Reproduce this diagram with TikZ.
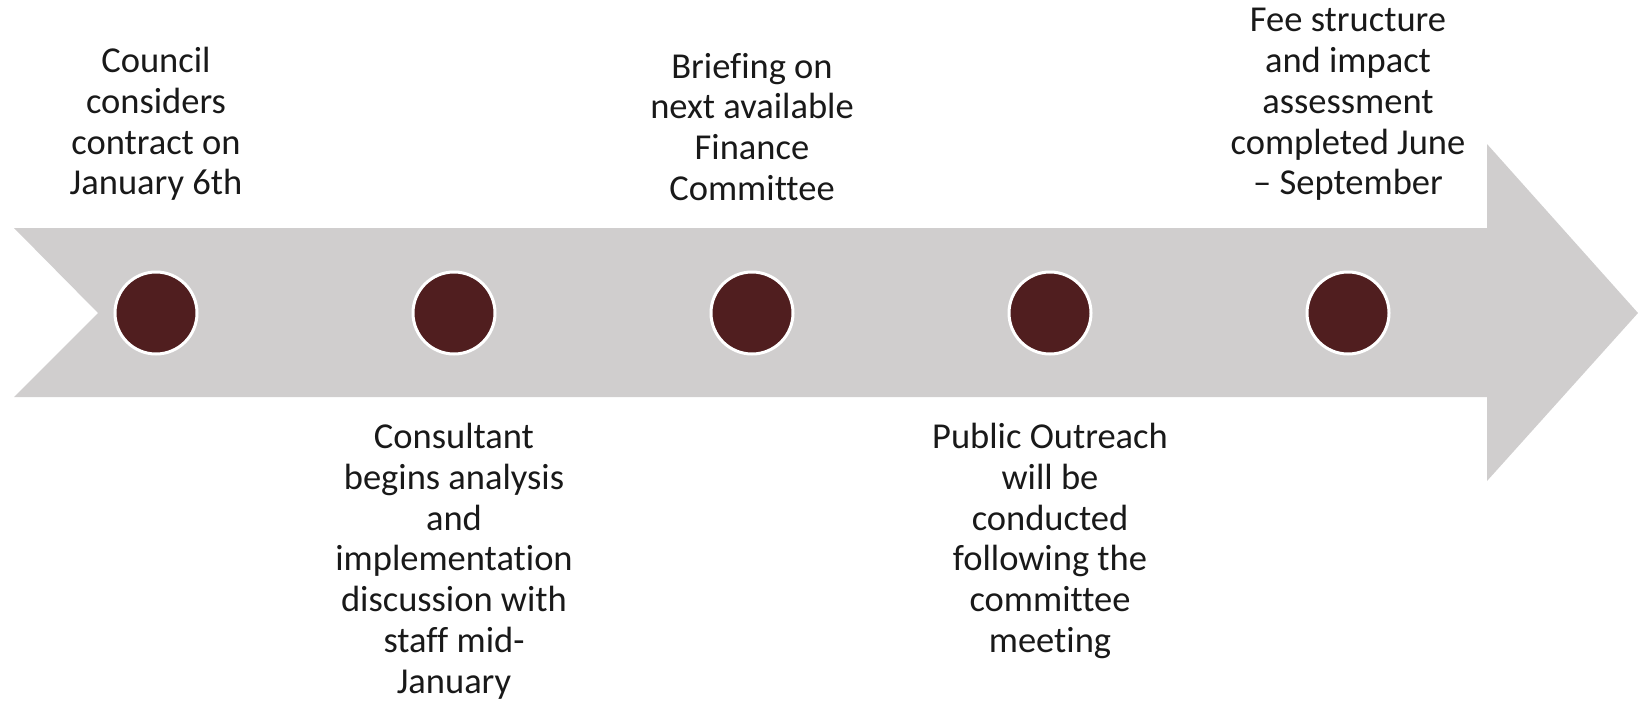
\documentclass[tikz,border=0pt]{standalone}
\usepackage{fontspec}
\setmainfont[Ligatures={NoCommon}]{Carlito}
\definecolor{arrowgray}{HTML}{D0CECE}
\definecolor{dotred}{HTML}{501E1F}
\begin{document}
\begin{tikzpicture}[x=1pt,y=-1pt,
  dot/.style={circle,fill=dotred,draw=white,line width=3pt,minimum size=82pt,inner sep=0pt},
  lbl/.style={align=center,font=\fontsize{36.5}{40.8}\selectfont,inner sep=0pt,text=black!90}]
\useasboundingbox (0,0) rectangle (1638,702);
\fill[arrowgray] (14,228) -- (1487,228) -- (1487,144) -- (1638,313) -- (1487,481) -- (1487,397) -- (14,397) -- (98,313) -- cycle;
\node[dot] (d1) at (156,313) {};
\node[dot] (d2) at (454,313) {};
\node[dot] (d3) at (752,313) {};
\node[dot] (d4) at (1050,313) {};
\node[dot] (d5) at (1348,313) {};
\node[lbl,anchor=south] (t1) at (156,201) {Council\\considers\\contract on\\January 6th};
\node[lbl,anchor=south] (t3) at (752,201) {Briefing on\\next available\\Finance\\Committee};
\node[lbl,anchor=south] (t5) at (1348,201) {Fee structure\\and impact\\assessment\\completed June\\– September};
\node[lbl,anchor=north] (t2) at (454,423) {Consultant\\begins analysis\\and\\implementation\\discussion with\\staff mid-\\January};
\node[lbl,anchor=north] (t4) at (1050,423) {Public Outreach\\will be\\conducted\\following the\\committee\\meeting};
\end{tikzpicture}
\end{document}
